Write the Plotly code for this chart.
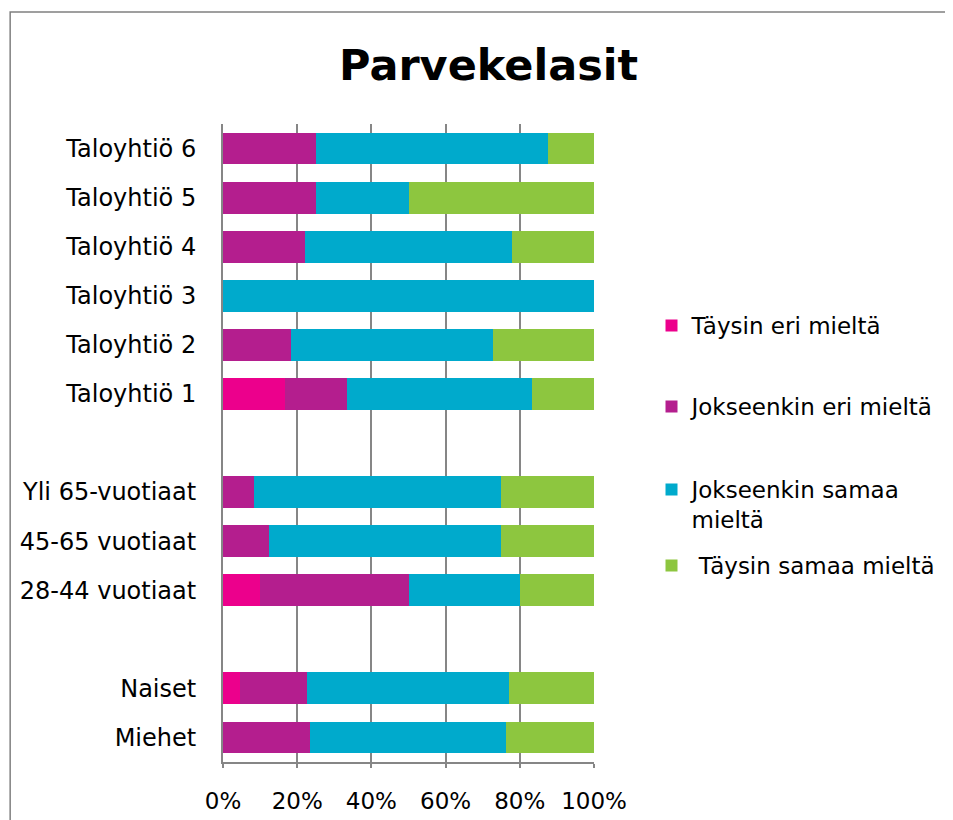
import plotly.graph_objects as go

# categories top to bottom, blanks are the gaps between groups
categories = ["Taloyhtiö 6", "Taloyhtiö 5", "Taloyhtiö 4", "Taloyhtiö 3", "Taloyhtiö 2",
              "Taloyhtiö 1", " ", "Yli 65-vuotiaat", "45-65 vuotiaat", "28-44 vuotiaat",
              "  ", "Naiset", "Miehet"]

taysin_eri = [0, 0, 0, 0, 0, 16.7, None, 0, 0, 10, None, 4.5, 0]
jokseenkin_eri = [25, 25, 22.2, 0, 18.2, 16.7, None, 8.3, 12.5, 40, None, 18.2, 23.5]
jokseenkin_samaa = [62.5, 25, 55.6, 100, 54.5, 50, None, 66.7, 62.5, 30, None, 54.5, 52.9]
taysin_samaa = [12.5, 50, 22.2, 0, 27.3, 16.7, None, 25, 25, 20, None, 22.7, 23.5]

series_names = ["Täysin eri mieltä", "Jokseenkin eri mieltä",
                "Jokseenkin samaa<br>mieltä", " Täysin samaa mieltä"]
series_values = [taysin_eri, jokseenkin_eri, jokseenkin_samaa, taysin_samaa]
colors = ["#EC008C", "#B41E8E", "#00AACC", "#8DC63F"]

x_ticks = [0, 20, 40, 60, 80, 100]
x_ticktext = ["0%", "20%", "40%", "60%", "80%", "100%"]

# each series gets its own legend box so the uneven spacing can be matched
legend_ids = ["legend", "legend2", "legend3", "legend4"]
legend_y = [0.7178, 0.5909, 0.4608, 0.3417]

fig = go.Figure()
for i, (name, vals) in enumerate(zip(series_names, series_values)):
    fig.add_trace(go.Bar(
        y=categories, x=vals, name=name, orientation="h",
        marker=dict(color=colors[i], line=dict(width=0)),
        width=0.65, legend=legend_ids[i],
    ))

grid = "#868686"
legend_style = dict(x=1.155, xanchor="left", yanchor="top", valign="top",
                    font=dict(size=23), bgcolor="rgba(0,0,0,0)")
fig.update_layout(
    barmode="stack",
    width=945, height=812,
    margin=dict(l=215, r=356, t=116, b=58),
    paper_bgcolor="white", plot_bgcolor="white",
    font=dict(family="DejaVu Sans", color="black", size=23),
    title=dict(text="<b>Parvekelasit</b>", font=dict(size=43, family="DejaVu Sans"),
               x=0.5085, xref="container", xanchor="center",
               y=0.9298, yref="container", yanchor="middle"),
    showlegend=True,
    legend=dict(y=legend_y[0], **legend_style),
    legend2=dict(y=legend_y[1], **legend_style),
    legend3=dict(y=legend_y[2], **legend_style),
    legend4=dict(y=legend_y[3], **legend_style),
    xaxis=dict(range=[0, 100], tickvals=x_ticks, ticktext=x_ticktext,
               showgrid=True, gridcolor=grid, gridwidth=2,
               showline=True, linecolor=grid, linewidth=2,
               ticks="outside", ticklen=4, tickcolor=grid, tickwidth=2,
               ticklabelstandoff=13, zeroline=False, fixedrange=True,
               automargin=False),
    yaxis=dict(categoryorder="array", categoryarray=categories, autorange="reversed",
               tickfont=dict(size=24),
               showline=True, linecolor=grid, linewidth=2,
               ticks="", ticklabelstandoff=20, showgrid=False, fixedrange=True,
               automargin=False),
)

# outer chart border (runs off the right and bottom edge)
fig.add_shape(type="rect", xref="paper", yref="paper",
              x0=-0.5737, x1=2.0, y0=-0.12, y1=1.1755,
              line=dict(color="#808080", width=1.5), layer="below")

fig.write_html("out.html")
